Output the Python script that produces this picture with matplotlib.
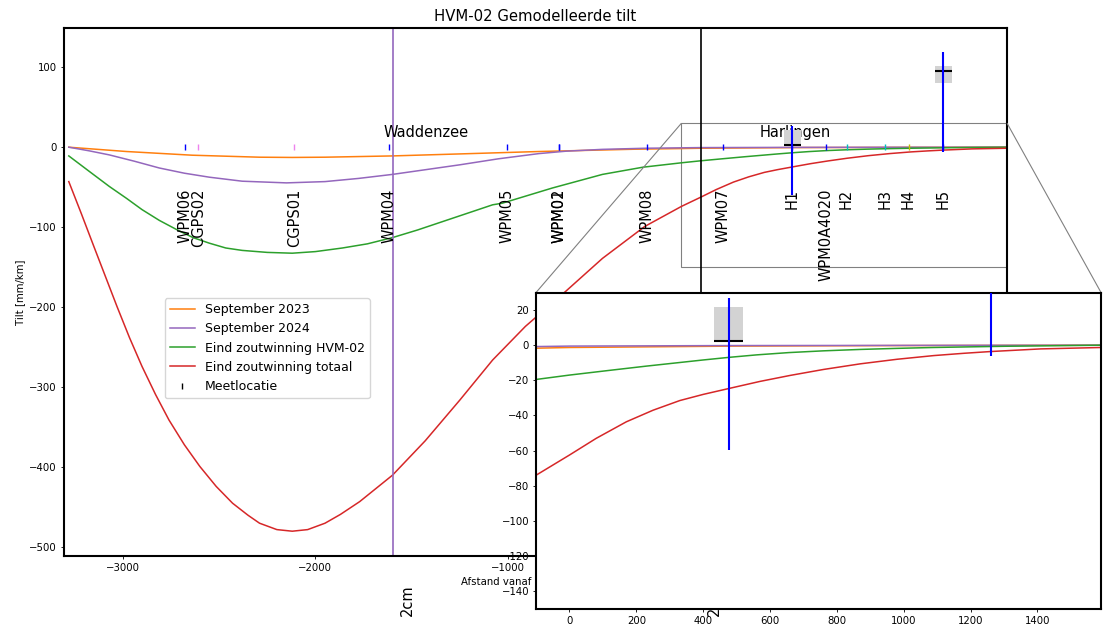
import matplotlib
matplotlib.use("Agg")
import matplotlib.pyplot as plt
from matplotlib.lines import Line2D
from matplotlib.ticker import MultipleLocator
from mpl_toolkits.axes_grid1.inset_locator import mark_inset

# --- data ---
x_2023 = [-3280, -2980, -2640, -2290, -2120, -1950, -1600, -1250, -840, -340, -100, 0, 500, 1000, 1590]
tilt_2023 = [0, -5.4, -10, -12.5, -12.8, -12.5, -10.9, -8.4, -5.4, -2.5, -1.7, -1.3, -0.5, -0.2, 0]

x_2024 = [-3280, -3175, -3070, -2940, -2810, -2680, -2550, -2380, -2150, -1950, -1775, -1600,
          -1425, -1250, -1050, -840, -700, -510, -285, 0, 500, 1590]
tilt_2024 = [0, -4.5, -9.6, -17.5, -26, -32.5, -37.5, -42.5, -44.6, -43, -39, -34,
             -28, -22, -14.5, -8, -5, -2.7, -1.3, -0.5, -0.2, 0]

x_hvm = [-3280, -3175, -3070, -2980, -2900, -2810, -2720, -2635, -2550, -2465, -2380, -2250,
         -2120, -2000, -1860, -1730, -1600, -1470, -1340, -1210, -1080, -1030, -770, -510,
         -300, -100, 0, 116, 230, 332, 400, 478, 560, 656, 760, 871, 980, 1087, 1303, 1590]
tilt_hvm = [-10.9, -30, -49, -64, -78, -91.5, -103, -113, -120, -126, -129, -131.5,
            -132.5, -130.5, -126, -120.8, -113, -103.5, -93, -82.5, -72, -70, -51, -34,
            -25, -19.5, -17, -14.4, -11.9, -9.8, -8.4, -6.9, -5.5, -4.2, -3.2, -2.4,
            -1.8, -1.3, -0.6, 0]

x_tot = [-3280, -3215, -3150, -3090, -3030, -2965, -2900, -2830, -2760, -2680, -2600, -2515,
         -2430, -2350, -2290, -2200, -2120, -2040, -1950, -1870, -1770, -1600, -1430, -1250,
         -1080, -910, -700, -510, -290, -100, 0, 80, 170, 250, 330, 400, 480, 570, 660, 760,
         870, 980, 1090, 1180, 1260, 1410, 1590]
tilt_tot = [-43, -83, -124, -161.5, -199, -238, -274, -309, -341, -372, -399, -424,
            -445, -460, -470, -478, -480, -478, -470, -459, -443, -410, -367, -316,
            -266, -224, -180, -139, -99, -74, -62.5, -53, -43.6, -37, -31.5, -28, -24.5,
            -20.6, -17.2, -13.8, -10.6, -8, -5.9, -4.6, -3.6, -2.1, -1.3]

# measurement locations
loc_names = ["WPM06", "CGPS02", "CGPS01", "WPM04", "WPM05", "WPM01", "WPM02", "WPM08",
             "WPM07", "H1", "WPM0A4020", "H2", "H3", "H4", "H5"]
loc_x = [-2678, -2607, -2109, -1620, -1003, -738, -734, -279, 115, 476, 650, 757, 957, 1079, 1260]
loc_colors = ["b", "violet", "violet", "b", "b", "b", "b", "b", "b", "b", "b",
              "c", "c", "y", "b"]

# measured tilt at H1 / H5: value, box range, uncertainty range
meas_x = [476, 1260]
meas_val = [2.5, 95]
box_lo = [2, 80]
box_hi = [22, 102]
err_lo = [-59.5, -6]
err_hi = [27, 119.5]

contour_x = [-1595, 0]
contour_colors = ["tab:purple", "black"]
contour_labels = ["2cm", "2cm"]

area_names = ["Waddenzee", "Harlingen"]
area_x = [-1425, 490]

FS_TICK = 7.3
FS_TEXT = 10.5


def draw_curves(ax):
    ax.plot(x_2023, tilt_2023, color="tab:orange", lw=1.1, label="September 2023")
    ax.plot(x_2024, tilt_2024, color="tab:purple", lw=1.1, label="September 2024")
    ax.plot(x_hvm, tilt_hvm, color="tab:green", lw=1.1, label="Eind zoutwinning HVM-02")
    ax.plot(x_tot, tilt_tot, color="tab:red", lw=1.1, label="Eind zoutwinning totaal")


def draw_measurements(ax):
    bw = 85
    for x, v, lo, hi, elo, ehi in zip(meas_x, meas_val, box_lo, box_hi, err_lo, err_hi):
        ax.bar(x, hi - lo, bottom=lo, width=bw, color="lightgrey", zorder=3)
        ax.hlines(v, x - bw / 2, x + bw / 2, color="k", lw=1.5, zorder=4)
        ax.vlines(x, elo, ehi, color="blue", lw=1.5, zorder=5)


fig = plt.figure(figsize=(11.03, 6.25), dpi=100)
ax = fig.add_axes([0.058, 0.1104, 0.855, 0.8448])

draw_curves(ax)

for x, c in zip(contour_x, contour_colors):
    ax.axvline(x, color=c, lw=1.2)

for x, c in zip(loc_x, loc_colors):
    ax.plot(x, 0, "|", color=c, ms=5, mew=1)

for name, x in zip(loc_names, loc_x):
    ax.text(x, -52, name, rotation=90, ha="center", va="top", fontsize=FS_TEXT)

for name, x in zip(area_names, area_x):
    ax.text(x, 13, name, ha="center", va="baseline", fontsize=FS_TEXT)

draw_measurements(ax)

for x, lab in zip(contour_x, contour_labels):
    ax.text(x + 70, -566, lab, rotation=90, ha="center", va="center",
            fontsize=FS_TEXT, clip_on=False)

ax.set_xlim(-3305, 1590)
ax.set_ylim(-511, 149)
ax.set_title("HVM-02 Gemodelleerde tilt", fontsize=10.7, pad=5)
ax.set_xlabel("Afstand vanaf Noordpunt [m]", fontsize=FS_TICK, labelpad=3)
ax.set_ylabel("Tilt [mm/km]", fontsize=FS_TICK, labelpad=3)
ax.tick_params(labelsize=FS_TICK, length=2.5, width=0.6, pad=2.5)
for s in ax.spines.values():
    s.set_linewidth(1.5)

handles, labels = ax.get_legend_handles_labels()
handles.append(Line2D([], [], ls="none", marker="|", color="k", ms=5, mew=1))
labels.append("Meetlocatie")
ax.legend(handles, labels, loc="upper left", bbox_to_anchor=(0.1071, 0.4886),
          borderaxespad=0, fontsize=9)

# inset (zoom on the right end)
axins = fig.add_axes([0.486, 0.026, 0.5122, 0.506])
draw_curves(axins)
draw_measurements(axins)
axins.set_xlim(-100, 1590)
axins.set_ylim(-150, 30)
axins.xaxis.set_major_locator(MultipleLocator(200))
axins.yaxis.set_major_locator(MultipleLocator(20))
axins.tick_params(labelsize=FS_TICK, length=2.5, width=0.6, pad=2.5)
for s in axins.spines.values():
    s.set_linewidth(1.5)

mark_inset(ax, axins, loc1=2, loc2=1, fc="none", ec="0.5", lw=0.8)

fig.savefig("out.png", dpi=100)
